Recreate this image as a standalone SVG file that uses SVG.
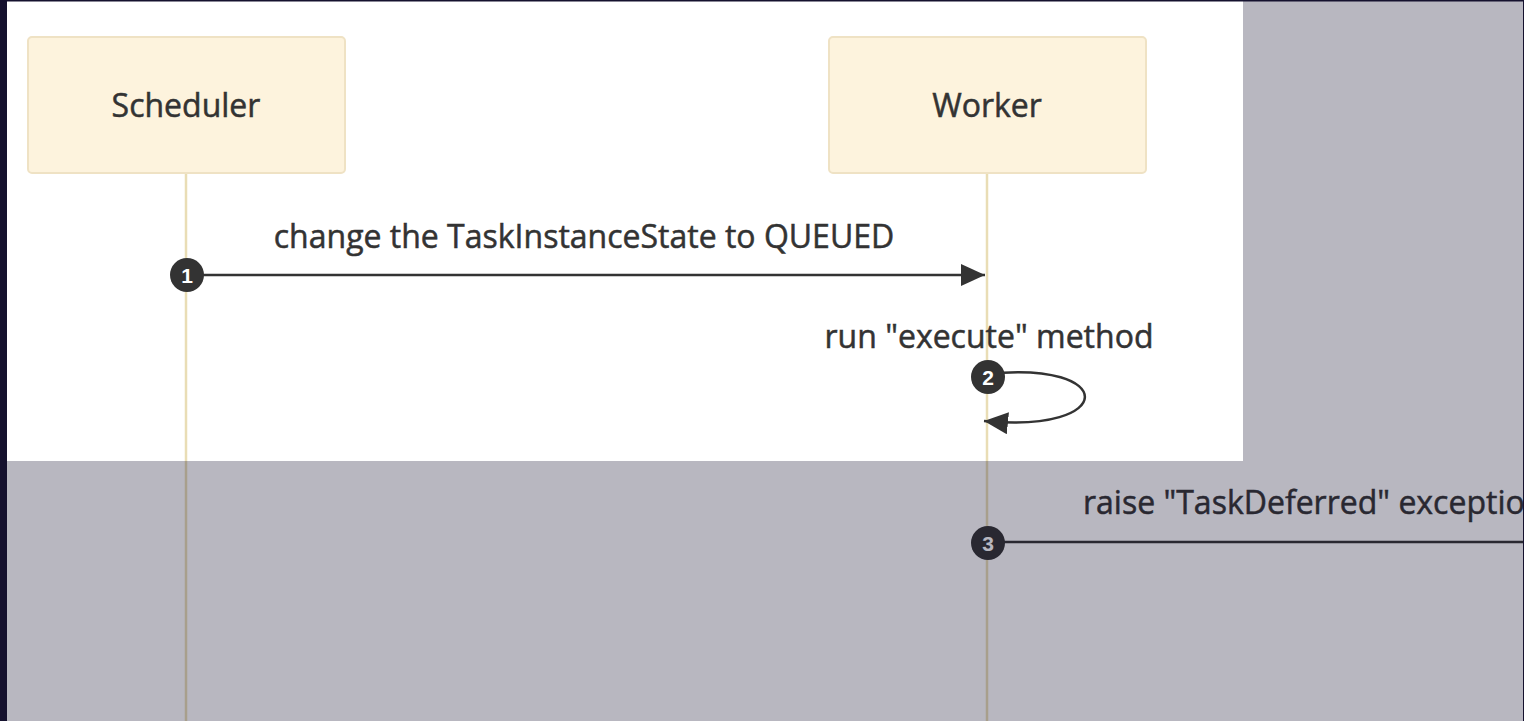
<svg xmlns="http://www.w3.org/2000/svg" width="1524" height="721" viewBox="0 0 1524 721">
  <style>
    .actor rect { fill: #fdf3dd; stroke: #efe2c4; stroke-width: 2; }
    .actor text { font-family: "Open Sans", "Noto Sans", sans-serif; font-size: 32px; fill: #333; stroke: #333; stroke-width: 0.5; text-anchor: middle; }
    .lifeline { stroke: #e9ddb5; stroke-width: 2.5; fill: none; }
    .msg { stroke: #333; stroke-width: 2.5; fill: none; }
    .label { font-family: "Open Sans", "Noto Sans", sans-serif; font-size: 32px; fill: #333; stroke: #333; stroke-width: 0.5; }
    .seq circle { fill: #333; }
    .seq text { font-family: "Liberation Sans", Arial, sans-serif; font-size: 21px; font-weight: bold; fill: #fff; text-anchor: middle; }
  </style>
  <defs>
    <marker id="arrow" viewBox="0 0 24 22" refX="24" refY="11" markerWidth="24" markerHeight="22" markerUnits="userSpaceOnUse" orient="auto">
      <path d="M0,0 L24,11 L0,22 Z" fill="#333"/>
    </marker>
  </defs>

  <!-- page -->
  <rect x="0" y="0" width="1524" height="721" fill="#ffffff"/>

  <!-- lifelines -->
  <g id="lifelines">
    <line class="lifeline" x1="186" y1="173" x2="186" y2="721"/>
    <line class="lifeline" x1="987" y1="173" x2="987" y2="721"/>
  </g>

  <!-- participants -->
  <g id="scheduler" class="actor">
    <rect x="28" y="37" width="317" height="136" rx="4"/>
    <text x="186" y="117">Scheduler</text>
  </g>
  <g id="worker" class="actor">
    <rect x="829" y="37" width="317" height="136" rx="4"/>
    <text x="987" y="117">Worker</text>
  </g>

  <!-- messages -->
  <g id="connectors">
    <line class="msg" x1="186" y1="275" x2="985" y2="275" marker-end="url(#arrow)"/>
    <path class="msg" d="M987,374 C1118,360 1118,434 984,421" marker-end="url(#arrow)"/>
    <line class="msg" x1="987" y1="542" x2="1530" y2="542"/>
  </g>

  <g id="labels">
    <text class="label" x="584" y="248" text-anchor="middle">change the TaskInstanceState to QUEUED</text>
    <text class="label" x="989" y="348" text-anchor="middle">run "execute" method</text>
    <text class="label" x="1083" y="514">raise "TaskDeferred" exceptio</text>
  </g>

  <!-- sequence numbers -->
  <g id="seq-1" class="seq">
    <circle cx="187" cy="275" r="17"/>
    <text x="187" y="283">1</text>
  </g>
  <g id="seq-2" class="seq">
    <circle cx="988" cy="377" r="17"/>
    <text x="988" y="385">2</text>
  </g>
  <g id="seq-3" class="seq">
    <circle cx="988" cy="543" r="17"/>
    <text x="988" y="551">3</text>
  </g>

  <!-- dimmed backdrop and frame -->
  <path d="M1243,1 H1524 V721 H7 V461 H1243 Z" fill="#15112e" fill-opacity="0.3"/>
  <rect x="0" y="0" width="7" height="721" fill="#15112e"/>
  <rect x="0" y="0" width="1524" height="1.5" fill="#15112e"/>
  <rect x="1523" y="0" width="1" height="721" fill="#15112e"/>
</svg>
